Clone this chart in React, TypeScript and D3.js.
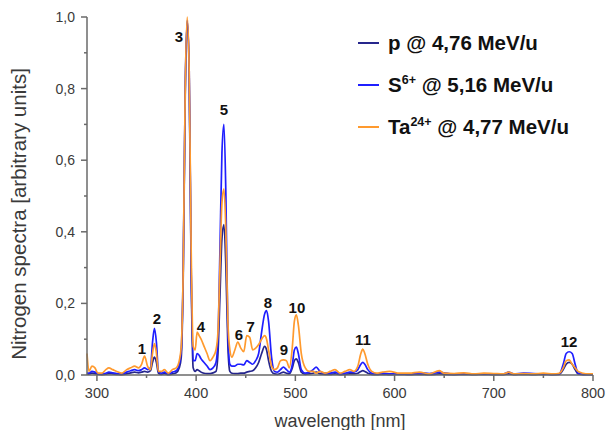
import React from "react";
import * as d3 from "d3";

const wavelengths = [290, 292, 295, 298, 301, 305, 309, 312, 316, 320, 325, 330, 334, 338, 342, 345, 348, 351, 354, 356, 358, 360, 362, 365, 368, 372, 376, 380, 383, 385, 387, 389, 391, 393, 395, 397, 399, 401, 403, 405, 408, 411, 414, 417, 420, 422, 424, 426, 428, 430, 432, 434, 436, 439, 442, 445, 448, 451, 454, 457, 460, 463, 466, 469, 471, 473, 476, 479, 482, 485, 488, 491, 494, 497, 499, 501, 503, 506, 510, 514, 518, 521, 525, 530, 535, 540, 545, 550, 555, 559, 563, 566, 568, 570, 573, 577, 582, 588, 595, 605, 615, 625, 635, 645, 650, 660, 670, 680, 690, 700, 710, 715, 720, 730, 740, 750, 760, 766, 770, 773, 776, 779, 782, 785, 790, 795, 800];

const taValues = [0.06, 0.01, 0.025, 0.02, 0.005, 0.005, 0.015, 0.02, 0.015, 0.01, 0.005, 0.015, 0.02, 0.025, 0.02, 0.03, 0.053, 0.025, 0.015, 0.06, 0.088, 0.06, 0.01, 0.01, 0.015, 0.005, 0.015, 0.02, 0.04, 0.08, 0.3, 0.8, 1.0, 0.85, 0.35, 0.08, 0.07, 0.12, 0.11, 0.1, 0.08, 0.06, 0.04, 0.05, 0.07, 0.12, 0.3, 0.48, 0.52, 0.4, 0.15, 0.07, 0.05, 0.07, 0.092, 0.075, 0.065, 0.11, 0.105, 0.07, 0.075, 0.085, 0.1, 0.11, 0.1, 0.07, 0.025, 0.015, 0.02, 0.04, 0.042, 0.04, 0.02, 0.08, 0.15, 0.168, 0.14, 0.06, 0.02, 0.01, 0.01, 0.005, 0.01, 0.005, 0.01, 0.015, 0.005, 0.01, 0.015, 0.01, 0.025, 0.06, 0.072, 0.06, 0.03, 0.01, 0.005, 0.008, 0.01, 0.005, 0.005, 0.008, 0.003, 0.012, 0.005, 0.004, 0.006, 0.003, 0.005, 0.004, 0.003, 0.008, 0.003, 0.004, 0.003, 0.005, 0.003, 0.005, 0.02, 0.04, 0.042, 0.03, 0.02, 0.01, 0.005, 0.003, 0.003];

const sValues = [0.005, 0.005, 0.01, 0.008, 0.004, 0.003, 0.005, 0.008, 0.006, 0.004, 0.003, 0.008, 0.012, 0.015, 0.012, 0.015, 0.02, 0.015, 0.02, 0.09, 0.13, 0.09, 0.01, 0.005, 0.008, 0.003, 0.008, 0.012, 0.03, 0.07, 0.3, 0.8, 0.99, 0.85, 0.3, 0.04, 0.04, 0.06, 0.055, 0.045, 0.035, 0.025, 0.015, 0.02, 0.035, 0.1, 0.35, 0.62, 0.7, 0.5, 0.12, 0.03, 0.025, 0.025, 0.03, 0.03, 0.028, 0.04, 0.035, 0.03, 0.04, 0.06, 0.12, 0.17, 0.18, 0.15, 0.05, 0.01, 0.008, 0.015, 0.022, 0.015, 0.008, 0.03, 0.07, 0.078, 0.06, 0.015, 0.005, 0.008, 0.015, 0.022, 0.01, 0.005, 0.005, 0.008, 0.003, 0.005, 0.008, 0.008, 0.015, 0.03, 0.035, 0.03, 0.015, 0.005, 0.003, 0.005, 0.003, 0.003, 0.003, 0.006, 0.004, 0.008, 0.006, 0.002, 0.004, 0.003, 0.003, 0.003, 0.003, 0.008, 0.003, 0.005, 0.004, 0.003, 0.002, 0.003, 0.03, 0.06, 0.065, 0.06, 0.03, 0.005, 0.002, 0.002, 0.002];

const pValues = [0.002, 0.003, 0.005, 0.004, 0.002, 0.001, 0.002, 0.004, 0.003, 0.002, 0.001, 0.003, 0.006, 0.008, 0.006, 0.008, 0.01, 0.008, 0.012, 0.035, 0.05, 0.035, 0.005, 0.002, 0.004, 0.001, 0.003, 0.006, 0.02, 0.05, 0.28, 0.78, 0.99, 0.83, 0.28, 0.02, 0.01, 0.015, 0.012, 0.008, 0.005, 0.004, 0.004, 0.006, 0.01, 0.06, 0.22, 0.38, 0.42, 0.3, 0.08, 0.01, 0.005, 0.004, 0.004, 0.005, 0.005, 0.008, 0.01, 0.012, 0.02, 0.035, 0.06, 0.08, 0.07, 0.04, 0.01, 0.003, 0.002, 0.005, 0.008, 0.005, 0.003, 0.02, 0.04, 0.045, 0.035, 0.008, 0.002, 0.003, 0.005, 0.008, 0.003, 0.002, 0.002, 0.003, 0.001, 0.002, 0.003, 0.003, 0.005, 0.01, 0.012, 0.01, 0.005, 0.002, 0.001, 0.002, 0.001, 0.002, 0.001, 0.002, 0.001, 0.003, 0.002, 0.001, 0.002, 0.001, 0.002, 0.001, 0.001, 0.003, 0.001, 0.002, 0.001, 0.002, 0.001, 0.002, 0.015, 0.03, 0.035, 0.03, 0.015, 0.003, 0.001, 0.001, 0.001];

const seriesNames = ["p", "S", "Ta"];
const seriesColors = ["#26268c", "#1f1fff", "#ff9a2e"];

const peakLabels = ["1", "2", "3", "4", "5", "6", "7", "8", "9", "10", "11", "12"];
const peakWavelengths = [345.4, 360.5, 382.7, 404.8, 428, 443, 455, 472.4, 488.5, 501.6, 568, 775.8];
const peakValues = [0.059, 0.143, 0.931, 0.12, 0.727, 0.098, 0.12, 0.187, 0.056, 0.173, 0.084, 0.078];

const xMajorTicks = [300, 400, 500, 600, 700, 800];
const xMinorTicks = [350, 450, 550, 650, 750];
const yMajorTicks = [0, 0.2, 0.4, 0.6, 0.8, 1.0];
const yMinorTicks = [0.1, 0.3, 0.5, 0.7, 0.9];

export default function App() {
  const x = d3.scaleLinear().domain([290, 800]).range([87, 593]);
  const y = d3.scaleLinear().domain([0, 1]).range([375, 17]);
  const line = (vals: number[]) =>
    d3
      .line<number>()
      .x((_, i) => x(wavelengths[i]))
      .y((v) => y(v))
      .curve(d3.curveMonotoneX)(vals) || "";

  const series = [pValues, sValues, taValues];
  const axisColor = "#6a6a6a";
  const textColor = "#3a3a3a";
  const fmt = (v: number) => v.toFixed(1).replace(".", ",");
  const font = "Liberation Sans, Arial, sans-serif";

  const legendRows = [43, 85, 127];

  return (
    <svg width={607} height={430} style={{ position: "absolute", left: 0, top: 0, background: "#fff" }} fontFamily={font}>
      <rect width={607} height={430} fill="#fff" />
      {series.map((vals, i) => (
        <path key={seriesNames[i]} d={line(vals)} fill="none" stroke={seriesColors[i]} strokeWidth={1.7} strokeLinejoin="round" />
      ))}
      <line x1={87} x2={87} y1={y(1)} y2={y(0)} stroke={axisColor} strokeWidth={1.5} />
      <line x1={87} x2={593} y1={y(0)} y2={y(0)} stroke={axisColor} strokeWidth={1.5} />
      {yMajorTicks.map((t) => (
        <g key={"ym" + t}>
          <line x1={81} x2={87} y1={y(t)} y2={y(t)} stroke={axisColor} strokeWidth={1.5} />
          <text x={75} y={y(t)} dy="0.35em" textAnchor="end" fontSize={14} fill={textColor}>
            {fmt(t)}
          </text>
        </g>
      ))}
      {yMinorTicks.map((t) => (
        <line key={"yn" + t} x1={84} x2={87} y1={y(t)} y2={y(t)} stroke={axisColor} strokeWidth={1.5} />
      ))}
      {xMajorTicks.map((t) => (
        <g key={"xm" + t}>
          <line x1={x(t)} x2={x(t)} y1={375} y2={381} stroke={axisColor} strokeWidth={1.5} />
          <text x={x(t)} y={398} textAnchor="middle" fontSize={14.5} fill={textColor}>
            {t}
          </text>
        </g>
      ))}
      {xMinorTicks.map((t) => (
        <line key={"xn" + t} x1={x(t)} x2={x(t)} y1={375} y2={378} stroke={axisColor} strokeWidth={1.5} />
      ))}
      <text x={340} y={427} textAnchor="middle" fontSize={18} fill={textColor}>
        wavelength [nm]
      </text>
      <text transform="translate(26,214) rotate(-90)" textAnchor="middle" fontSize={20.5} fill={textColor}>
        Nitrogen spectra [arbitrary units]
      </text>
      {peakLabels.map((l, i) => (
        <text key={"pk" + l} x={x(peakWavelengths[i])} y={y(peakValues[i])} textAnchor="middle" fontSize={15} fontWeight="bold" fill="#111">
          {l}
        </text>
      ))}
      {legendRows.map((ly, i) => (
        <line key={"lg" + i} x1={358} x2={379} y1={ly} y2={ly} stroke={seriesColors[i]} strokeWidth={2} />
      ))}
      <text x={388} y={legendRows[0] + 7} fontSize={20.5} fontWeight="bold" fill="#111">
        p @ 4,76 MeV/u
      </text>
      <text x={388} y={legendRows[1] + 7} fontSize={20.5} fontWeight="bold" fill="#111">
        S<tspan fontSize={12.5} dy={-8}>6+</tspan>
        <tspan dy={8}> @ 5,16 MeV/u</tspan>
      </text>
      <text x={388} y={legendRows[2] + 7} fontSize={20.5} fontWeight="bold" fill="#111">
        Ta<tspan fontSize={12.5} dy={-8}>24+</tspan>
        <tspan dy={8}> @ 4,77 MeV/u</tspan>
      </text>
    </svg>
  );
}
